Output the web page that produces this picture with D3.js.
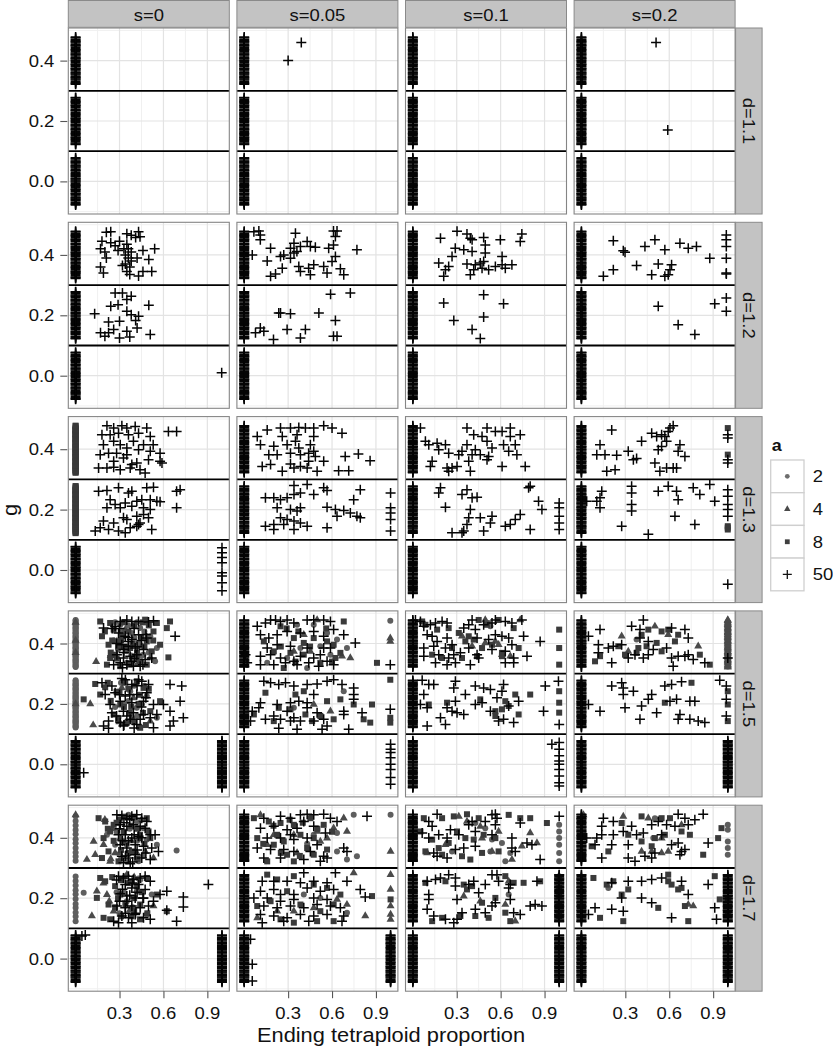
<!DOCTYPE html>
<html><head><meta charset="utf-8">
<script src="https://cdn.jsdelivr.net/npm/d3@7"></script>
<style>body{margin:0;background:#fff}text{font-family:"Liberation Sans",Arial,Helvetica,sans-serif;fill:#111}</style>
</head><body><svg id="c" width="833" height="1050"></svg>
<script>
// ---------- categories / ticks ----------
const sLabels = ["s=0","s=0.05","s=0.1","s=0.2"];
const dLabels = ["d=1.1","d=1.2","d=1.3","d=1.5","d=1.7"];
const aLevels = [2,4,8,50];
const xTicks = [0.3,0.6,0.9];
const yTicks = [0.0,0.2,0.4];
const xMinor = [0.15,0.45,0.75];
const yMinor = [-0.1,0.1,0.3,0.5];
const gCuts = [0.1,0.3];

// ---------- dense jittered stacks (y values) ----------
const stackLo  = [-0.078,-0.076,-0.073,-0.069,-0.064,-0.061,-0.058,-0.055,-0.053,-0.048,-0.044,-0.041,-0.039,-0.034,-0.030,-0.027,-0.025,-0.020,-0.016,-0.013,-0.011,-0.006,-0.002,0.001,0.005,0.008,0.010,0.015,0.019,0.022,0.025,0.029,0.034,0.036,0.039,0.044,0.048,0.051,0.053,0.058,0.062,0.064,0.067,0.071,0.076,0.078];
const stackMid = [0.122,0.124,0.127,0.131,0.136,0.139,0.142,0.145,0.147,0.152,0.156,0.159,0.161,0.166,0.170,0.173,0.175,0.180,0.184,0.187,0.189,0.194,0.198,0.201,0.205,0.208,0.210,0.215,0.219,0.222,0.225,0.229,0.234,0.236,0.239,0.244,0.248,0.251,0.253,0.258,0.262,0.264,0.267,0.271,0.276,0.278];
const stackHi  = [0.322,0.324,0.327,0.331,0.336,0.339,0.342,0.345,0.347,0.352,0.356,0.359,0.361,0.366,0.370,0.373,0.375,0.380,0.384,0.387,0.389,0.394,0.398,0.401,0.405,0.408,0.410,0.415,0.419,0.422,0.425,0.429,0.434,0.436,0.439,0.444,0.448,0.451,0.453,0.458,0.462,0.464,0.467,0.471,0.476,0.478];
const spotMid  = [0.124,0.139,0.153,0.168,0.181,0.197,0.213,0.226,0.242,0.257,0.272];
const spotHi   = [0.324,0.338,0.351,0.366,0.382,0.395,0.412,0.426,0.441,0.456,0.471];

const at = (x, ...lists) => lists.flat().map(y => [x, y]);
const leftPlus = at(0, stackLo, stackMid, stackHi);

// ---------- panel data: c=a2 circles, t=a4 triangles, s=a8 squares, p=a50 plus ----------
const d11_s0   = {p: leftPlus};
const d11_s005 = {p: [...leftPlus, [0.30,0.40],[0.39,0.46]]};
const d11_s01  = {p: leftPlus};
const d11_s02  = {p: [...leftPlus, [0.51,0.46],[0.59,0.17]]};

const d12_s0 = {p: [...leftPlus,
 [.21,.475],[.24,.477],[.35,.47],[.38,.465],[.43,.477],[.41,.458],[.44,.46],[.18,.445],[.24,.44],[.27,.43],[.30,.445],[.33,.42],[.17,.42],[.20,.41],[.29,.415],[.36,.42],[.38,.41],[.46,.415],[.54,.42],[.21,.39],[.36,.39],[.42,.39],[.50,.385],[.34,.37],[.37,.36],[.32,.365],[.17,.36],[.19,.34],[.35,.345],[.37,.335],[.43,.33],[.46,.345],[.52,.345],[.34,.40],[.38,.38],[.35,.435],
 [.27,.274],[.32,.274],[.38,.263],[.35,.252],[.50,.233],[.24,.23],[.29,.235],[.13,.205],[.35,.213],[.38,.202],[.43,.197],[.225,.178],[.30,.18],[.41,.183],[.17,.142],[.225,.142],[.26,.153],[.30,.125],[.37,.128],[.42,.158],[.51,.136],[.35,.147],[.20,.131],
 [.998,.01]]};
const d12_s005 = {p: [...leftPlus,
 [.066,.477],[.10,.479],[.11,.466],[.055,.40],[.18,.422],[.157,.38],[.248,.395],[.27,.40],[.316,.422],[.34,.439],[.35,.472],[.36,.411],[.384,.428],[.43,.444],[.452,.428],[.486,.425],[.577,.422],[.61,.479],[.634,.479],[.623,.461],[.61,.433],[.77,.417],[.18,.329],[.214,.337],[.26,.356],[.373,.362],[.384,.345],[.44,.356],[.452,.334],[.475,.367],[.543,.362],[.566,.34],[.60,.378],[.623,.395],[.657,.354],[.68,.334],[.316,.389],[.34,.406],[.11,.45],
 [.59,.27],[.725,.274],[.236,.208],[.248,.208],[.316,.205],[.51,.208],[.623,.183],[.11,.158],[.134,.147],[.077,.142],[.293,.153],[.418,.153],[.20,.12],[.384,.125],[.61,.131],[.634,.131]]};
const d12_s01 = {p: [...leftPlus,
 [.189,.455],[.302,.478],[.37,.469],[.393,.455],[.405,.45],[.484,.458],[.598,.45],[.745,.469],[.734,.444],[.495,.433],[.29,.422],[.348,.417],[.405,.411],[.268,.395],[.495,.406],[.61,.395],[.177,.373],[.245,.362],[.223,.351],[.37,.37],[.427,.367],[.461,.373],[.484,.378],[.416,.351],[.473,.356],[.518,.351],[.564,.362],[.61,.367],[.632,.356],[.677,.367],[.393,.334],[.211,.329],
 [.211,.241],[.484,.268],[.62,.238],[.28,.183],[.484,.194],[.405,.153],[.461,.123]]};
const d12_s02 = {p: [...leftPlus,
 [.218,.447],[.298,.409],[.286,.414],[.434,.428],[.502,.45],[.57,.417],[.673,.439],[.73,.422],[.786,.428],[.877,.389],[.15,.329],[.218,.351],[.377,.365],[.525,.37],[.616,.367],[.605,.351],[.48,.334],[.57,.329],[.593,.334],
 [.99,.466],[.99,.45],[.99,.428],[.99,.389],[.99,.34],[.99,.337],
 [.525,.23],[.661,.169],[.775,.136],[.911,.238],[.99,.257],[.99,.213]]};

const d13_s0 = {
 c: at(0, spotHi, spotMid),
 s: at(0, stackHi, stackMid),
 p: [...at(0, stackLo),
 [.214,.478],[.26,.47],[.316,.478],[.35,.47],[.407,.475],[.486,.47],[.634,.459],[.69,.459],[.18,.448],[.236,.448],[.293,.453],[.361,.448],[.43,.453],[.51,.442],[.19,.415],[.26,.426],[.305,.415],[.395,.426],[.464,.415],[.53,.415],[.168,.382],[.225,.387],[.28,.387],[.35,.404],[.43,.398],[.51,.393],[.577,.387],[.26,.36],[.327,.371],[.418,.354],[.498,.365],[.577,.36],[.157,.338],[.214,.338],[.26,.34],[.373,.338],[.44,.332],[.475,.321],[.59,.354],[.35,.382],[.384,.349],[.305,.332],
 [.157,.261],[.214,.263],[.293,.272],[.361,.255],[.384,.261],[.486,.272],[.532,.274],[.69,.261],[.714,.266],[.69,.206],[.236,.233],[.27,.217],[.339,.222],[.418,.228],[.452,.233],[.51,.233],[.555,.228],[.577,.226],[.214,.206],[.305,.206],[.384,.211],[.464,.206],[.51,.2],[.19,.162],[.26,.156],[.327,.173],[.35,.167],[.418,.178],[.44,.156],[.498,.173],[.168,.14],[.225,.134],[.293,.129],[.373,.14],[.418,.145],[.52,.134],[.134,.129],[.339,.123],[.43,.151],[.464,.184],
 [1,.074],[1,.057],[1,.041],[1,.024],[1,-.009],[1,-.02],[1,-.042],[1,-.069]]};
const d13_s005 = {p: [...leftPlus,
 [.089,.442],[.157,.464],[.248,.47],[.316,.47],[.373,.472],[.418,.47],[.475,.47],[.543,.478],[.60,.47],[.668,.453],[.26,.442],[.361,.448],[.475,.442],[.111,.415],[.202,.41],[.293,.415],[.35,.426],[.373,.404],[.452,.415],[.475,.393],[.168,.382],[.225,.382],[.316,.387],[.384,.382],[.44,.387],[.486,.376],[.543,.36],[.69,.376],[.78,.384],[.86,.362],[.123,.343],[.18,.349],[.26,.327],[.316,.351],[.384,.343],[.43,.338],[.498,.327],[.645,.329],[.714,.329],[.44,.36],[.34,.338],
 [.34,.28],[.43,.283],[.543,.272],[.566,.263],[.793,.266],[.145,.239],[.202,.239],[.248,.233],[.293,.239],[.34,.25],[.384,.255],[.475,.25],[.748,.233],[.225,.206],[.316,.2],[.384,.206],[.566,.208],[.623,.2],[.68,.197],[.725,.189],[.77,.178],[.793,.173],[.634,.178],[.248,.173],[.293,.167],[.34,.162],[.384,.156],[.145,.145],[.202,.151],[.27,.151],[.34,.134],[.43,.145],[.566,.14],[.202,.134],[.361,.195],
 [1,.255],[1,.206],[1,.189],[1,.167],[1,.129]]};
const d13_s01 = {p: [...leftPlus,
 [.052,.47],[.086,.426],[.109,.415],[.166,.42],[.223,.415],[.132,.36],[.12,.343],[.234,.338],[.245,.327],[.268,.338],[.302,.343],[.382,.36],[.314,.382],[.245,.387],[.177,.398],[.336,.393],[.37,.415],[.37,.47],[.416,.448],[.473,.442],[.507,.47],[.507,.426],[.427,.398],[.461,.382],[.518,.376],[.541,.404],[.61,.459],[.666,.47],[.666,.442],[.734,.448],[.62,.415],[.655,.393],[.7,.415],[.711,.382],[.61,.343],[.768,.343],[.405,.382],[.393,.327],[.507,.365],[.564,.459],
 [.189,.272],[.177,.255],[.223,.208],[.336,.25],[.37,.266],[.405,.239],[.439,.241],[.393,.2],[.37,.151],[.348,.129],[.268,.123],[.336,.123],[.382,.173],[.461,.173],[.541,.178],[.53,.156],[.484,.129],[.632,.145],[.666,.151],[.7,.167],[.734,.184],[.791,.272],[.802,.277],[.859,.228],[.882,.2],[.802,.134],
 [1,.222],[1,.206],[1,.178],[1,.156],[1,.134]]};
const d13_s02 = {
 s: [[1,.47],[1,.382],[1,.145],[1,.134],[1,.14]],
 p: [...leftPlus,
 [.207,.464],[.127,.415],[.105,.382],[.161,.382],[.241,.38],[.32,.393],[.355,.365],[.377,.369],[.173,.327],[.23,.332],[.411,.426],[.48,.453],[.514,.442],[.548,.448],[.593,.459],[.605,.47],[.627,.478],[.57,.442],[.582,.426],[.548,.409],[.525,.398],[.673,.415],[.661,.393],[.707,.376],[.502,.354],[.536,.327],[.582,.338],[.627,.338],[.65,.338],
 [1,.448],[1,.437],[1,.365],[1,.354],
 [.139,.261],[.127,.239],[.105,.228],[.127,.206],[.343,.277],[.343,.255],[.343,.217],[.343,.195],[.525,.261],[.593,.277],[.65,.261],[.661,.233],[.764,.272],[.809,.25],[.877,.283],[.911,.228],[.639,.178],[.775,.151],[.275,.145],[.457,.118],[.036,.228],
 [1,.266],[1,.244],[1,.217],[1,.2],[1,.178],[1,-.047]]};

const d15_s0 = {
 c: [...at(0, stackHi, stackMid),
 [.305,.462],[.384,.435],[.441,.451],[.51,.424],[.35,.374],[.43,.402],[.543,.341],[.35,.336],[.464,.363],[.555,.385],
 [.27,.47],[.32,.44],[.4,.42],[.45,.36],[.5,.37],[.29,.38],[.38,.36],[.42,.47],[.36,.46],
 [.373,.242],[.486,.226],[.418,.187],[.293,.154],[.555,.154],[.452,.198],[.26,.41],[.47,.44],[.33,.2],[.4,.26],
 [.31,.27],[.42,.16],[.36,.21],[.27,.19],[.47,.26]],
 t: [[0,.47],[0,.41],[0,.37],[0,.2],[.339,.446],[.452,.391],[.282,.407],[.418,.33],[.51,.352],[.316,.253],[.395,.22],[.51,.143],[.24,.36],[.3,.14],[.1,.2],[.12,.13],[.14,.34]],
 s: [[.168,.473],[.18,.424],[.236,.468],[.26,.446],[.225,.396],[.236,.352],[.214,.33],[.27,.363],[.316,.424],[.373,.385],[.418,.352],[.486,.407],[.532,.44],[.555,.468],[.475,.479],[.623,.451],[.645,.473],[.634,.354],[.577,.396],[.52,.374],[.305,.325],[.486,.33],[.4,.46],[.29,.39],[.45,.42],
 [.2,.44],[.25,.41],[.33,.47],[.36,.44],[.39,.40],[.42,.37],[.47,.39],[.5,.46],[.28,.35],[.31,.41],[.44,.34],[.37,.33],[.24,.37],[.53,.41],[.46,.47],[.34,.39],
 [.134,.266],[.168,.231],[.055,.215],[.202,.255],[.339,.27],[.418,.275],[.464,.253],[.305,.198],[.26,.165],[.384,.149],[.51,.176],[.577,.209],[.441,.121],[.35,.138],[.28,.24],[.43,.2],[.37,.17],
 [.22,.27],[.3,.24],[.36,.25],[.44,.23],[.33,.19],[.4,.14],[.46,.17],[.29,.15],[.5,.25],[.38,.19],[.24,.21],[.48,.13]],
 p: [...at(0, stackLo), ...at(1, stackLo),
 [.191,.451],[.27,.457],[.305,.473],[.35,.478],[.384,.473],[.43,.473],[.498,.471],[.532,.475],[.293,.435],[.339,.424],[.384,.413],[.43,.429],[.486,.418],[.316,.396],[.361,.391],[.407,.385],[.464,.38],[.282,.363],[.327,.352],[.373,.358],[.418,.363],[.475,.347],[.52,.352],[.26,.33],[.305,.336],[.35,.33],[.395,.325],[.441,.325],[.68,.424],[.361,.407],[.327,.38],[.384,.341],
 [.3,.45],[.4,.45],[.45,.41],[.33,.37],[.4,.35],[.28,.4],[.48,.43],[.36,.42],[.25,.45],[.42,.39],[.46,.33],[.32,.32],
 [.18,.27],[.248,.259],[.316,.284],[.384,.264],[.452,.275],[.498,.264],[.645,.264],[.725,.259],[.202,.231],[.27,.237],[.339,.226],[.418,.231],[.486,.237],[.236,.198],[.305,.209],[.384,.204],[.464,.209],[.532,.198],[.60,.198],[.714,.209],[.248,.171],[.327,.176],[.395,.171],[.464,.165],[.555,.165],[.645,.176],[.225,.143],[.305,.138],[.373,.149],[.441,.149],[.51,.154],[.668,.143],[.736,.154],[.191,.127],[.225,.119],[.327,.127],[.418,.132],[.532,.121],[.645,.127],
 [.34,.28],[.42,.26],[.3,.23],[.37,.23],[.45,.19],[.28,.16],[.35,.16],[.4,.12],[.48,.22],[.33,.13],[.43,.28],
 [.055,-.028]]};
const d15_s005 = {
 c: [[.361,.462],[.475,.462],[.566,.435],[.634,.413],[.52,.391],[.702,.385],[.384,.385],[.998,.475],[.293,.352],[.43,.319],[.157,.336],[.589,.363],[.68,.242],[.339,.187]],
 t: [[.498,.478],[.407,.429],[.668,.358],[.725,.352],[.998,.418],[.998,.407],[.339,.374],[.452,.374],[.475,.198],[.589,.176]],
 s: [[.248,.457],[.339,.418],[.407,.402],[.475,.418],[.566,.407],[.611,.396],[.68,.473],[.657,.369],[.407,.363],[.316,.369],[.202,.374],[.907,.336],[.134,.407],[.27,.319],[.52,.336],[.623,.352],
 [.29,.45],[.37,.44],[.25,.39],[.45,.39],[.56,.45],[.35,.34],[.6,.34],
 [.145,.237],[.236,.187],[.316,.182],[.418,.165],[.464,.143],[.407,.242],[.566,.209],[.657,.215],[.748,.198],[.873,.198],[.998,.28],[.202,.143],[.816,.149],[.861,.138],[.998,.154],[.998,.138],[.52,.16],[.611,.149],[.35,.231],[.066,.165]],
 p: [...leftPlus,
 [.089,.457],[.145,.468],[.18,.478],[.214,.478],[.248,.473],[.293,.478],[.339,.468],[.43,.478],[.475,.479],[.543,.478],[.589,.473],[.111,.429],[.168,.418],[.225,.429],[.293,.44],[.384,.435],[.475,.44],[.543,.424],[.611,.446],[.68,.429],[.759,.402],[.157,.385],[.225,.396],[.316,.391],[.43,.385],[.543,.385],[.589,.385],[.111,.358],[.18,.363],[.248,.352],[.339,.341],[.384,.358],[.475,.352],[.52,.363],[.202,.33],[.282,.336],[.361,.33],[.441,.336],[.509,.325],[.566,.341],[.611,.33],[.998,.33],[.009,.363],[.02,.336],[.111,.33],
 [.134,.275],[.18,.27],[.236,.264],[.282,.27],[.339,.259],[.43,.264],[.498,.266],[.566,.275],[.611,.28],[.668,.264],[.748,.253],[.748,.231],[.748,.215],[.111,.204],[.225,.198],[.316,.204],[.373,.209],[.43,.204],[.475,.231],[.055,.176],[.10,.187],[.202,.16],[.293,.176],[.339,.154],[.43,.187],[.498,.171],[.543,.149],[.68,.176],[.805,.171],[.998,.182],[.043,.143],[.145,.149],[.248,.149],[.316,.143],[.384,.143],[.475,.143],[.566,.127],[.236,.119],[.361,.116],[.532,.116],[.714,.116],[.68,.165],
 [1,.066],[1,.05],[1,.039],[1,.022],[1,0],[1,-.017],[1,-.044],[1,-.066]]};
const d15_s01 = {
 c: [[.518,.468],[.53,.457]],
 t: [[.495,.478],[.734,.478],[.564,.407],[.586,.396],[.609,.363],[.666,.358],[.336,.424],[.405,.391],[.495,.402]],
 s: [[.064,.473],[.086,.462],[.166,.446],[.245,.451],[.314,.435],[.359,.407],[.45,.478],[.507,.462],[.586,.478],[.689,.451],[.382,.424],[.416,.413],[.473,.385],[.541,.396],[.723,.385],[.609,.369],[.2,.352],[.132,.363],[.268,.385],[.336,.352],[.439,.358],[.609,.358],[1,.446],[1,.385],[1,.33],
 [.109,.198],[.234,.204],[.461,.215],[.564,.176],[.609,.182],[.655,.193],[.723,.165],[.802,.231],[.7,.231],[.564,.16],[1,.242],[1,.204],[1,.171],[.632,.209]],
 p: [...leftPlus,
 [.018,.478],[.052,.473],[.075,.457],[.12,.462],[.155,.468],[.2,.473],[.234,.468],[.098,.429],[.132,.424],[.166,.407],[.234,.418],[.268,.396],[.075,.385],[.143,.391],[.223,.385],[.28,.363],[.325,.369],[.075,.358],[.177,.363],[.245,.352],[.155,.336],[.234,.33],[.291,.336],[.348,.451],[.405,.478],[.382,.462],[.427,.446],[.484,.462],[.541,.468],[.564,.478],[.632,.473],[.677,.468],[.745,.478],[.439,.418],[.518,.413],[.564,.429],[.609,.424],[.655,.418],[.757,.424],[.87,.407],[.382,.385],[.439,.363],[.541,.38],[.632,.374],[.677,.396],[.689,.352],[.78,.358],[.393,.33],[.45,.352],[.632,.336],[.689,.336],
 [.064,.278],[.109,.264],[.143,.264],[.291,.275],[.28,.253],[.075,.231],[.052,.198],[.098,.187],[.234,.187],[.268,.176],[.302,.171],[.348,.165],[.189,.154],[.223,.132],[.098,.127],[.291,.209],[.359,.231],[.427,.259],[.484,.253],[.53,.248],[.62,.264],[.609,.242],[.575,.22],[.655,.193],[.62,.149],[.586,.143],[.689,.138],[.473,.204],[.53,.176],[.723,.209],[.905,.259],[.893,.176],[.995,.275],[1,.132],[.427,.198],
 [.95,.066],[1,.072],[1,.05],[1,.028],[1,.011],[1,0],[1,-.017],[1,-.039],[1,-.061],[1,-.072]]};
const d15_s02 = {
 c: [[.377,.413], ...at(1, spotHi)],
 t: [[.502,.457],[.275,.424],[.798,.391],[.32,.374],[.593,.429], ...at(1, stackHi)],
 s: [[.411,.429],[.457,.446],[.548,.44],[.593,.446],[.661,.429],[.639,.407],[.389,.385],[.548,.374],[.445,.391],[.377,.369],[.252,.391],[.127,.358],[.093,.341],[.298,.363],[.877,.33],[.809,.363],[.514,.402],
 [.752,.27],[.57,.204],[1,.242],[1,.198],[1,.143]],
 p: [...leftPlus, ...at(1, stackLo),
 [.127,.446],[.048,.424],[.116,.396],[.184,.385],[.218,.391],[.275,.396],[.343,.457],[.4,.446],[.423,.478],[.4,.418],[.457,.407],[.616,.451],[.707,.446],[.73,.418],[.366,.363],[.457,.363],[.582,.385],[.616,.352],[.661,.358],[.707,.358],[.73,.363],[.764,.347],[.627,.325],[.843,.336],[.207,.336],[.32,.352],[.423,.352],[.491,.38],[.116,.369],[1,.352],
 [.207,.259],[.275,.27],[.286,.253],[.286,.231],[.355,.242],[.48,.231],[.457,.215],[.57,.259],[.616,.264],[.684,.273],[.65,.215],[.605,.209],[.741,.209],[.775,.209],[.673,.165],[.661,.149],[.741,.149],[.798,.143],[.843,.138],[.127,.176],[.298,.187],[.411,.193],[.514,.171],[.4,.149],[.048,.198],[.945,.278],[.99,.259],[.99,.215],[.99,.16]]};

const d17_s0 = {
 c: [...at(0, spotHi, spotMid),
 [.361,.476],[.418,.454],[.464,.432],[.35,.377],[.69,.358],[.486,.394],[.555,.377],[.43,.322],[.214,.41],[.27,.377],[.35,.322],
 [.28,.42],[.37,.43],[.42,.39],[.31,.33],[.46,.34],
 [.055,.218],[.418,.223],[.486,.146],[.35,.19],[.52,.212],[.3,.15],[.43,.265],
 [.28,.22],[.44,.26],[.39,.17],[.33,.22]],
 t: [[0,.476],[.077,.328],[.134,.344],[.27,.35],[.305,.399],[.236,.322],[.475,.355],[.532,.333],[.123,.388],[.418,.35],[.191,.377],
 [.2,.46],[.25,.43],[.3,.35],[.38,.39],[.45,.46],[.24,.33],
 [.111,.141],[.145,.223],[.214,.212],[.26,.157],[.35,.278],[.532,.174],[.19,.25],
 [.23,.19],[.33,.27],[.4,.27],[.37,.16]],
 s: [[.157,.465],[.202,.454],[.236,.421],[.191,.399],[.18,.333],[.486,.465],[.51,.399],[.225,.355],[.26,.443],[.327,.388],[.384,.355],[.441,.399],[.293,.322],[.498,.421],[.42,.43],[.3,.46],
 [.22,.43],[.28,.45],[.33,.42],[.38,.44],[.44,.41],[.31,.36],[.36,.35],[.42,.33],[.26,.39],[.47,.38],[.4,.47],[.33,.47],
 [.168,.267],[.202,.256],[.145,.201],[.225,.179],[.191,.135],[.236,.13],[.486,.267],[.555,.212],[.623,.157],[.384,.256],[.305,.212],[.441,.179],[.27,.24],[.4,.16],
 [.25,.27],[.31,.26],[.36,.25],[.42,.24],[.29,.2],[.34,.18],[.4,.2],[.45,.22],[.31,.14],[.38,.14],[.44,.13],[.27,.17],[.49,.15]],
 p: [...at(0, stackLo), ...at(1, stackLo),
 [.282,.476],[.316,.474],[.35,.465],[.384,.471],[.418,.476],[.452,.465],[.486,.454],[.305,.443],[.35,.438],[.395,.443],[.441,.438],[.475,.432],[.51,.41],[.293,.41],[.339,.41],[.384,.399],[.43,.405],[.543,.41],[.305,.377],[.35,.366],[.407,.377],[.464,.372],[.52,.366],[.566,.355],[.316,.339],[.361,.333],[.407,.344],[.452,.333],[.51,.328],[.327,.317],[.373,.314],
 [.33,.45],[.37,.46],[.4,.41],[.32,.39],[.36,.39],[.42,.36],[.34,.34],[.39,.32],[.45,.4],[.3,.43],[.48,.35],
 [.293,.273],[.327,.267],[.361,.273],[.395,.262],[.441,.267],[.475,.273],[.51,.256],[.339,.245],[.384,.234],[.43,.245],[.475,.229],[.305,.215],[.35,.207],[.407,.201],[.464,.201],[.532,.19],[.282,.174],[.339,.168],[.384,.174],[.441,.168],[.498,.174],[.316,.141],[.361,.135],[.407,.146],[.464,.135],[.26,.124],[.293,.119],[.384,.119],[.51,.13],[.623,.223],[.736,.204],[.736,.171],[.623,.16],[.69,.124],[.907,.245],[.577,.212],
 [.32,.23],[.37,.21],[.42,.22],[.3,.19],[.35,.19],[.41,.15],[.46,.2],[.34,.15],[.39,.25],[.28,.26],
 [.043,.075],[.066,.078]]};
const d17_s005 = {
 c: [[.748,.476],[1,.476],[.634,.416],[.43,.38],[.702,.328],[.77,.339],[.634,.355],[.475,.41],[.52,.201],[.702,.152],[.407,.212]],
 t: [[.111,.476],[.202,.41],[.339,.41],[.611,.432],[.68,.465],[.702,.421],[.566,.399],[.52,.388],[.361,.35],[1,.355],[.498,.421],[.157,.377],
 [.748,.284],[1,.278],[1,.229],[1,.174],[1,.146],[1,.13],[.827,.141],[.702,.179],[.634,.196],[.225,.157],[.475,.168],[.339,.157],[.089,.135]],
 s: [[.066,.465],[.168,.454],[.248,.449],[.339,.443],[.452,.465],[.543,.443],[.089,.399],[.202,.377],[.27,.388],[.384,.41],[.475,.399],[.293,.344],[.157,.322],[.339,.322],[.475,.344],[.566,.361],[.225,.41],[.43,.366],
 [.2,.44],[.31,.46],[.4,.45],[.5,.43],[.13,.38],[.25,.35],[.38,.34],[.6,.42],
 [.157,.278],[.225,.262],[.339,.273],[.475,.245],[.566,.234],[.657,.212],[.873,.207],[.089,.174],[.18,.19],[.384,.179],[.52,.157],[.611,.179],[.248,.13],[.339,.119],[.498,.124],[.611,.124],[1,.196],[.293,.223]],
 p: [...leftPlus, ...at(1, stackLo),
 [.134,.465],[.248,.471],[.316,.465],[.384,.476],[.43,.478],[.475,.476],[.543,.478],[.589,.465],[.634,.454],[.839,.471],[.111,.432],[.202,.438],[.293,.427],[.361,.432],[.475,.438],[.555,.416],[.157,.399],[.248,.399],[.339,.394],[.43,.399],[.498,.377],[.68,.366],[.089,.366],[.18,.361],[.27,.361],[.339,.355],[.452,.355],[.543,.339],[.134,.333],[.248,.333],[.407,.328],[.52,.322],[.566,.333],[.702,.355],[.316,.41],[.407,.454],
 [.407,.284],[.623,.284],[.123,.256],[.202,.256],[.293,.256],[.384,.251],[.475,.256],[.566,.251],[.702,.256],[.111,.223],[.202,.229],[.248,.212],[.339,.212],[.43,.234],[.52,.223],[.611,.229],[.066,.201],[.157,.201],[.248,.19],[.339,.196],[.475,.201],[.566,.196],[.793,.229],[.827,.204],[.134,.174],[.225,.168],[.316,.174],[.407,.168],[.498,.179],[.589,.174],[.657,.168],[.111,.146],[.202,.141],[.293,.135],[.384,.146],[.475,.141],[.566,.146],[.68,.141],[.123,.119],[.27,.124],[.441,.124],[.668,.124],
 [.043,.064],[.055,-.019],[.055,-.074]]};
const d17_s01 = {
 c: [[.427,.449],[.495,.432],[.541,.394],[.609,.383],[.666,.35],[.632,.322],[.53,.355],[.268,.355],[1,.443],[1,.421],[1,.399],[1,.377],[1,.35],[1,.322],
 [1,.273],[1,.256],[.655,.212]],
 t: [[.314,.471],[.37,.454],[.461,.438],[.473,.399],[.586,.421],[.802,.416],[.745,.372],[.848,.383],[.677,.328],[.098,.35],[.223,.377],[.541,.355],
 [.348,.207],[.655,.256],[.461,.19],[.7,.124],[.632,.179]],
 s: [[.075,.465],[.2,.465],[.28,.471],[.37,.478],[.45,.465],[.655,.476],[.734,.465],[.802,.465],[.916,.449],[.132,.394],[.245,.383],[.359,.399],[.416,.394],[.484,.41],[.564,.399],[.177,.366],[.2,.344],[.336,.339],[.473,.35],[.586,.355],[.086,.355],[.052,.421],[.393,.328],[.302,.421],
 [.086,.251],[.223,.256],[.348,.245],[.37,.229],[.405,.24],[.632,.273],[.689,.251],[.757,.251],[.87,.256],[.564,.201],[.632,.152],[.666,.124],[.518,.135],[.325,.141],[.2,.135],[.132,.124],[1,.234],[1,.207],[1,.174],[1,.141],[.427,.141],[.473,.185]],
 p: [...leftPlus, ...at(1, stackMid, stackLo),
 [.166,.478],[.109,.454],[.132,.438],[.064,.416],[.109,.399],[.177,.41],[.257,.427],[.234,.399],[.314,.41],[.382,.443],[.405,.454],[.427,.421],[.495,.454],[.541,.476],[.575,.465],[.564,.443],[.541,.41],[.427,.372],[.348,.366],[.291,.361],[.143,.35],[.166,.339],[.234,.333],[.677,.366],[.7,.355],[.78,.383],[.87,.328],[.814,.377],[.734,.449],[.677,.399],[.564,.478],[1,.471],
 [.098,.256],[.155,.262],[.189,.267],[.245,.278],[.291,.267],[.109,.212],[.109,.196],[.098,.163],[.143,.141],[.291,.24],[.302,.196],[.302,.13],[.223,.13],[.28,.119],[.382,.245],[.45,.218],[.416,.256],[.495,.245],[.541,.278],[.575,.278],[.586,.256],[.655,.234],[.666,.196],[.564,.185],[.541,.174],[.427,.163],[.495,.152],[.689,.152],[.734,.146],[.802,.174],[.836,.179],[.882,.174],[.848,.256],[.666,.245],[.336,.152]]};
const d17_s02 = {
 c: [[.502,.465],[.491,.399],[1,.443],[1,.427],[1,.388],[1,.366],[1,.344],[.184,.234]],
 t: [[.014,.476],[.286,.471],[.457,.465],[.548,.399],[.411,.355],[.48,.355],[.548,.35],[.593,.355],[.684,.443],[.764,.174],[.73,.179]],
 s: [[.411,.471],[.548,.465],[.605,.465],[.275,.449],[.32,.41],[.411,.388],[.502,.399],[.57,.41],[.684,.421],[.741,.41],[.934,.399],[.832,.344],[.184,.355],[.07,.372],[.48,.372],[.957,.432],
 [.082,.267],[.173,.245],[.218,.256],[.32,.229],[.275,.212],[.593,.278],[.593,.256],[.616,.245],[.661,.229],[.684,.234],[.707,.174],[.73,.124],[.127,.135],[.286,.124],[.525,.168],[.911,.273],[.945,.196],
 [1,.2],[1,.15],[1,.03],[1,-.02],[1,-.05]],
 p: [...leftPlus, ...at(1, stackMid, stackLo),
 [.15,.465],[.218,.454],[.139,.438],[.036,.399],[.105,.399],[.139,.41],[.218,.41],[.286,.421],[.343,.438],[.377,.41],[.423,.416],[.48,.443],[.525,.454],[.582,.443],[.548,.41],[.639,.438],[.661,.478],[.707,.465],[.775,.46],[.832,.478],[.73,.443],[.661,.383],[.707,.361],[.684,.355],[.673,.344],[.616,.377],[.866,.383],[.139,.333],[.32,.333],[.366,.322],[.434,.339],[.48,.333],[.502,.35],[.093,.377],[.207,.377],[.32,.377],
 [.207,.251],[.32,.256],[.411,.256],[.48,.262],[.548,.267],[.684,.256],[.866,.245],[.275,.201],[.411,.201],[.48,.185],[.73,.212],[.093,.168],[.207,.163],[.286,.157],[.616,.135],[.923,.13],[.911,.168],[.048,.146]]};

const panels = [
 [d11_s0, d11_s005, d11_s01, d11_s02],
 [d12_s0, d12_s005, d12_s01, d12_s02],
 [d13_s0, d13_s005, d13_s01, d13_s02],
 [d15_s0, d15_s005, d15_s01, d15_s02],
 [d17_s0, d17_s005, d17_s01, d17_s02]
];

// ---------- layout ----------
const PW = 161, PH = 186, COL0 = 68.3, COLSTEP = 168.6, ROW0 = 28, ROWSTEP = 194.3;
const SX = 1.12; // horizontal text stretch of reference
const x = d3.scaleLinear().domain([-0.05,1.05]).range([0,PW]);
const y = d3.scaleLinear().domain([-0.108,0.508]).range([PH,0]);
const shapeKeys = ["c","t","s","p"];
const fills = {c:"#5e5e5e", t:"#4a4a4a", s:"#3a3a3a", p:"#050505"};
const triPath = d3.symbol(d3.symbolTriangle, 28)();
const plusPath = "M-5,0H5M0,-5V5";
const svg = d3.select("#c");

function txt(g, tx, ty, str, size, anchor, opts={}) {
  const t = g.append("text").attr("transform", `translate(${tx},${ty}) ${opts.rot?`rotate(${opts.rot})`:""} scale(${SX},1)`)
    .attr("text-anchor", anchor).style("font-size", size+"px").text(str);
  if (opts.bold) t.style("font-weight","bold");
  if (opts.dy) t.attr("dy", opts.dy);
  return t;
}

function drawMarks(g, key, data) {
  const sel = g.append("g").selectAll("x").data(data).join(key==="c"?"circle":key==="s"?"rect":"path");
  if (key==="c") sel.attr("cx",d=>x(d[0])).attr("cy",d=>y(d[1])).attr("r",3).attr("fill",fills.c);
  else if (key==="s") sel.attr("x",d=>x(d[0])-3).attr("y",d=>y(d[1])-3).attr("width",6).attr("height",6).attr("fill",fills.s);
  else if (key==="t") sel.attr("d",triPath).attr("transform",d=>`translate(${x(d[0])},${y(d[1])})`).attr("fill",fills.t);
  else sel.attr("d",plusPath).attr("transform",d=>`translate(${x(d[0])},${y(d[1])})`).attr("fill","none").attr("stroke",fills.p).attr("stroke-width",1.5);
}

panels.forEach((row, ri) => {
  row.forEach((pd, ci) => {
    const g = svg.append("g").attr("transform", `translate(${COL0+ci*COLSTEP},${ROW0+ri*ROWSTEP})`);
    g.append("rect").attr("width",PW).attr("height",PH).attr("fill","#fff");
    g.selectAll(".vm").data(xMinor).join("line").attr("x1",d=>x(d)).attr("x2",d=>x(d)).attr("y1",0).attr("y2",PH).attr("stroke","#f0f0f0").attr("stroke-width",1);
    g.selectAll(".hm").data(yMinor).join("line").attr("y1",d=>y(d)).attr("y2",d=>y(d)).attr("x1",0).attr("x2",PW).attr("stroke","#f0f0f0").attr("stroke-width",1);
    g.selectAll(".vM").data(xTicks).join("line").attr("x1",d=>x(d)).attr("x2",d=>x(d)).attr("y1",0).attr("y2",PH).attr("stroke","#e3e3e3").attr("stroke-width",1.2);
    g.selectAll(".hM").data(yTicks).join("line").attr("y1",d=>y(d)).attr("y2",d=>y(d)).attr("x1",0).attr("x2",PW).attr("stroke","#e3e3e3").attr("stroke-width",1.2);
    g.selectAll(".cut").data(gCuts).join("line").attr("y1",d=>y(d)).attr("y2",d=>y(d)).attr("x1",0).attr("x2",PW).attr("stroke","#000").attr("stroke-width",1.8);
    shapeKeys.forEach(k => { if (pd[k]) drawMarks(g, k, pd[k]); });
    g.append("rect").attr("width",PW).attr("height",PH).attr("fill","none").attr("stroke","#858585").attr("stroke-width",1.1);
  });
});

// top strips
sLabels.forEach((s, ci) => {
  const gx = COL0 + ci*COLSTEP;
  svg.append("rect").attr("x",gx).attr("y",0.5).attr("width",PW).attr("height",26.8).attr("fill","#c3c3c3").attr("stroke","#8a8a8a").attr("stroke-width",1);
  txt(svg, gx+PW/2, 21, s, 16.5, "middle");
});
// right strips
dLabels.forEach((d, ri) => {
  const gy = ROW0 + ri*ROWSTEP;
  svg.append("rect").attr("x",COL0+3*COLSTEP+PW+0.5).attr("y",gy).attr("width",26.5).attr("height",PH).attr("fill","#c3c3c3").attr("stroke","#8a8a8a").attr("stroke-width",1);
  txt(svg, COL0+3*COLSTEP+PW+13.8, gy+PH/2, d, 16.5, "middle", {rot:90, dy:"0.36em"});
});

// y axes
dLabels.forEach((d, ri) => {
  const gy = ROW0 + ri*ROWSTEP;
  const ax = svg.append("g").attr("transform",`translate(${COL0},${gy})`)
    .call(d3.axisLeft(y).tickValues(yTicks).tickSize(8).tickFormat(d3.format(".1f")));
  ax.select(".domain").remove();
  ax.selectAll(".tick line").attr("stroke","#555").attr("stroke-width",1.1).attr("x2",-8).attr("x1",-1);
  ax.selectAll(".tick text").remove();
  yTicks.forEach(v => txt(ax, -14, y(v)+6, d3.format(".1f")(v), 16.5, "end"));
});
// x axes
sLabels.forEach((s, ci) => {
  const gx = COL0 + ci*COLSTEP;
  const ay = ROW0 + 4*ROWSTEP + PH;
  const ax = svg.append("g").attr("transform",`translate(${gx},${ay})`)
    .call(d3.axisBottom(x).tickValues(xTicks).tickSize(7).tickFormat(d3.format(".1f")));
  ax.select(".domain").remove();
  ax.selectAll(".tick line").attr("stroke","#555").attr("stroke-width",1.1);
  ax.selectAll(".tick text").remove();
  xTicks.forEach(v => txt(ax, x(v), 27.5, d3.format(".1f")(v), 16.5, "middle"));
});

// axis titles
txt(svg, 391, 1042, "Ending tetraploid proportion", 19.5, "middle");
txt(svg, 17, 510, "g", 19.5, "middle", {rot:-90});

// legend
const lg = svg.append("g").attr("transform","translate(770.7,460)");
txt(lg, 1, -9.5, "a", 16, "start", {bold:true});
const keyH = 32.7;
aLevels.forEach((a, i) => {
  const k = shapeKeys[i];
  lg.append("rect").attr("x",0).attr("y",i*keyH).attr("width",33.3).attr("height",keyH).attr("fill","#fff").attr("stroke","#cfcfcf").attr("stroke-width",1.3);
  const cx = 16.6, cy = i*keyH + keyH/2;
  if (k==="c") lg.append("circle").attr("cx",cx).attr("cy",cy).attr("r",2.4).attr("fill","#6e6e6e");
  else if (k==="t") lg.append("path").attr("d",d3.symbol(d3.symbolTriangle,18)()).attr("transform",`translate(${cx},${cy})`).attr("fill","#4a4a4a");
  else if (k==="s") lg.append("rect").attr("x",cx-2.4).attr("y",cy-2.4).attr("width",4.8).attr("height",4.8).attr("fill","#3f3f3f");
  else lg.append("path").attr("d","M-4.5,0H4.5M0,-4.5V4.5").attr("transform",`translate(${cx},${cy})`).attr("stroke","#111").attr("stroke-width",1.3);
  txt(lg, 42, cy+6, String(a), 16.5, "start");
});
</script></body></html>
